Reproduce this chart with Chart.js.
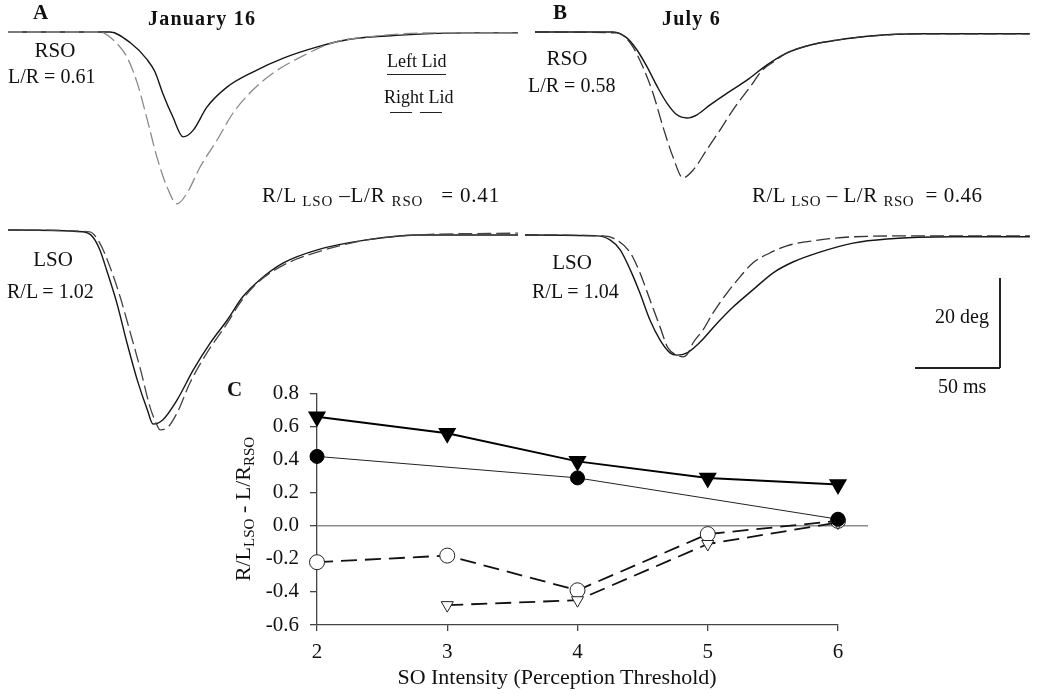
<!DOCTYPE html>
<html>
<head>
<meta charset="utf-8">
<script src="https://cdn.jsdelivr.net/npm/chart.js@4/dist/chart.umd.min.js"></script>
<style>
body { margin: 0; width: 1050px; height: 694px; background: #fff; position: relative; overflow: hidden; font-family: "Liberation Serif", "Times New Roman", serif; color: #111; }
canvas { position: absolute; }
.lbl { position: absolute; white-space: nowrap; line-height: 1; }
.lbl sub { font-size: 15px; vertical-align: -4px; line-height: 0; }
.rule { position: absolute; background: #222; }
#ytitle { position: absolute; left: 243px; top: 509px; font-size: 22px; line-height: 1; white-space: nowrap; transform: translate(-50%, -50%) rotate(-90deg); }
#ytitle sub { font-size: 15px; vertical-align: -4px; line-height: 0; }
</style>
</head>
<body>
<canvas id="aRso" width="510" height="216" style="left:8px;top:23px"></canvas>
<canvas id="aLso" width="510" height="216" style="left:8px;top:221px"></canvas>
<canvas id="bRso" width="510" height="216" style="left:535px;top:23px"></canvas>
<canvas id="bLso" width="510" height="216" style="left:525px;top:226px"></canvas>
<canvas id="chartC" width="680" height="324" style="left:220px;top:370px"></canvas>
<div id="ytitle">R/L<sub>LSO</sub> - L/R<sub>RSO</sub></div>

<script>
// eyelid traces: time (ms) and lid position (deg, down is negative)
const aRsoLeftT = [0, 60, 72, 82, 86.5, 91, 97, 103, 109, 117, 129, 144, 162, 182, 201, 231, 270, 300];
const aRsoLeftDeg = [0, 0, -2.4, -6.2, -8.9, -13.6, -18.9, -23.3, -21.8, -16.7, -12.2, -8.9, -5.8, -3.3, -1.6, -0.7, -0.2, -0.2];
const aRsoRightT = [0, 54, 62, 70, 76, 82, 87.6, 93.5, 99.4, 105.3, 113, 123, 132.4, 144, 156, 172, 191, 211, 250, 300];
const aRsoRightDeg = [0, 0, -1.8, -5.6, -11.3, -19.6, -27.8, -34.4, -38.2, -35.8, -30, -24, -18, -12.9, -9.1, -5.6, -2.4, -1.1, -0.2, -0.2];

const aLsoLeftT = [0, 44, 50, 54, 58, 64, 70, 76, 82, 85.3, 91, 99.4, 109, 119, 129, 138, 148, 162, 182, 211, 241, 300];
const aLsoLeftDeg = [0, -0.4, -1.6, -4.4, -8.9, -16.2, -25.1, -33.3, -40, -43.1, -42.2, -37.8, -31.1, -25.1, -20, -14.9, -11.1, -7.3, -4.4, -2.2, -1.1, -1.1];
const aLsoRightT = [0, 48, 54, 60, 66, 72, 78, 83.5, 87.6, 89.4, 93.5, 99.4, 107, 117, 129, 136.5, 146.5, 162, 182, 211, 241, 300];
const aLsoRightDeg = [0, -0.4, -2.9, -8.2, -14.9, -22.9, -31.1, -39.3, -43.3, -44.4, -44, -40.7, -34, -27.3, -20.7, -16.2, -11.8, -7.8, -4.9, -2.2, -1.1, -0.7];

const bRsoLeftT = [0, 46, 54, 60, 66, 72, 77.6, 83.5, 89.4, 95.3, 103, 113, 124.7, 136.5, 148, 162, 177.6, 197, 226.5, 291];
const bRsoLeftDeg = [0, 0, -1.3, -4, -7.8, -12.2, -15.8, -18.4, -19.1, -18.4, -16.2, -13.6, -10.7, -7.3, -4.7, -2.9, -1.8, -0.9, -0.4, -0.4];
const bRsoRightT = [0, 48, 56, 63.5, 69.4, 75.3, 81.2, 87, 93, 101, 108.8, 116.5, 126.5, 134, 140, 148, 162, 177.6, 197, 226.5, 291];
const bRsoRightDeg = [0, -0.2, -2.4, -7.8, -13.6, -21.1, -27.8, -32.4, -30.7, -26.2, -21.8, -17.3, -12.2, -8.4, -6.7, -4.7, -2.9, -1.8, -0.9, -0.4, -0.4];

const bLsoLeftT = [0, 42.4, 50, 56, 62, 67.6, 73.5, 79.4, 85.3, 89.4, 95.3, 103, 113, 122.4, 134, 146, 157.6, 173.5, 193, 213, 252, 297];
const bLsoLeftDeg = [0, -0.2, -1.1, -3.3, -7.8, -12.9, -18.9, -23.3, -26.2, -26.7, -26.2, -23.8, -19.6, -16, -12.2, -8.4, -6, -3.8, -1.8, -0.9, -0.4, -0.4];
const bLsoRightT = [0, 46, 54, 62, 67.6, 73.5, 79.4, 84.1, 89.4, 93, 96, 98.8, 104.7, 110.6, 118.8, 126.5, 134, 144, 154, 173.5, 193, 232, 297];
const bLsoRightDeg = [0, -0.2, -1.1, -4, -8.4, -14.4, -20.4, -25.1, -26.7, -27.1, -26.2, -24, -21.1, -17.3, -12.9, -9.3, -6.2, -4, -2.4, -1.1, -0.4, -0.2, -0.2];

// panel C
const intensity = [2, 3, 4, 5, 6];
const filledTriangle = [0.66, 0.56, 0.39, 0.29, 0.25];
const filledCircle = [0.42, null, 0.29, null, 0.04];
const openCircle = [-0.22, -0.18, -0.39, -0.05, 0.03];
const openTriangle = [null, -0.48, -0.45, -0.11, 0.02];

const serif = '"Liberation Serif", "Times New Roman", serif';
const ink = '#111';
const axisColor = '#444';

function pts(xs, ys) {
    return xs.map((x, i) => ({ x: x, y: ys[i] }));
}

function traceChart(id, leftT, leftDeg, rightT, rightDeg, dashColor) {
    new Chart(document.getElementById(id), {
        type: 'line',
        data: {
            datasets: [{
                data: pts(rightT, rightDeg),
                borderColor: dashColor,
                borderWidth: 1.3,
                borderDash: [14, 5],
                pointRadius: 0,
                cubicInterpolationMode: 'monotone'
            }, {
                data: pts(leftT, leftDeg),
                borderColor: '#151515',
                borderWidth: 1.4,
                pointRadius: 0,
                cubicInterpolationMode: 'monotone'
            }]
        },
        options: {
            responsive: false,
            animation: false,
            clip: false,
            layout: { padding: 0 },
            plugins: { legend: { display: false }, tooltip: { enabled: false } },
            scales: {
                x: { type: 'linear', min: 0, max: 300, display: false },
                y: { min: -46, max: 2, display: false }
            }
        }
    });
}

traceChart('aRso', aRsoLeftT, aRsoLeftDeg, aRsoRightT, aRsoRightDeg, '#8a8a8a');
traceChart('aLso', aLsoLeftT, aLsoLeftDeg, aLsoRightT, aLsoRightDeg, '#444');
traceChart('bRso', bRsoLeftT, bRsoLeftDeg, bRsoRightT, bRsoRightDeg, '#333');
traceChart('bLso', bLsoLeftT, bLsoLeftDeg, bLsoRightT, bLsoRightDeg, '#333');

// gray zero line that runs past the last tick
const zeroLine = {
    id: 'zeroLine',
    beforeDatasetsDraw(chart) {
        const { ctx, chartArea, scales } = chart;
        const y = scales.y.getPixelForValue(0);
        ctx.save();
        ctx.strokeStyle = '#8c8c8c';
        ctx.lineWidth = 1.5;
        ctx.beginPath();
        ctx.moveTo(chartArea.left, y);
        ctx.lineTo(chartArea.right + 30, y);
        ctx.stroke();
        ctx.restore();
    }
};

const dash = [16, 8];
new Chart(document.getElementById('chartC'), {
    type: 'line',
    data: {
        datasets: [{
            data: pts(intensity, filledCircle),
            borderColor: '#222',
            borderWidth: 1,
            spanGaps: true,
            pointStyle: 'circle',
            pointRadius: 7,
            pointBackgroundColor: '#000',
            pointBorderColor: '#000'
        }, {
            data: pts(intensity, openTriangle),
            borderColor: '#111',
            borderWidth: 1.8,
            borderDash: dash,
            spanGaps: true,
            pointStyle: 'triangle',
            rotation: 180,
            pointRadius: 7,
            pointBorderWidth: 1,
            pointBackgroundColor: '#fff',
            pointBorderColor: '#222'
        }, {
            data: pts(intensity, openCircle),
            borderColor: '#111',
            borderWidth: 1.8,
            borderDash: dash,
            pointStyle: 'circle',
            pointRadius: 7.5,
            pointBorderWidth: 1,
            pointBackgroundColor: '#fff',
            pointBorderColor: '#222'
        }, {
            data: pts(intensity, filledTriangle),
            borderColor: '#000',
            borderWidth: 2,
            pointStyle: 'triangle',
            rotation: 180,
            pointRadius: 8.5,
            pointBackgroundColor: '#000',
            pointBorderColor: '#000'
        }]
    },
    options: {
        responsive: false,
        animation: false,
        clip: false,
        layout: { padding: { top: 19, right: 62, left: 0, bottom: 0 } },
        plugins: { legend: { display: false }, tooltip: { enabled: false } },
        scales: {
            x: {
                type: 'linear', min: 2, max: 6,
                ticks: { stepSize: 1, color: ink, padding: 9, font: { family: serif, size: 21 } },
                grid: { drawOnChartArea: false, tickLength: 6, color: axisColor, lineWidth: 1.3 },
                border: { color: axisColor, width: 1.3 },
                afterFit: s => { s.height = 69; }
            },
            y: {
                min: -0.6, max: 0.8,
                ticks: { stepSize: 0.2, color: ink, padding: 11, font: { family: serif, size: 21 },
                    callback: v => v.toFixed(1) },
                grid: { drawOnChartArea: false, tickLength: 7, color: axisColor, lineWidth: 1.3 },
                border: { color: axisColor, width: 1.3 },
                afterFit: s => { s.width = 97; }
            }
        }
    },
    plugins: [zeroLine]
});

// text labels, placed by baseline
function label(html, x, base, size, opts = {}) {
    const d = document.createElement('div');
    d.className = 'lbl';
    d.innerHTML = html;
    d.style.fontSize = size + 'px';
    d.style.left = x + 'px';
    d.style.top = (base - 0.8375 * size) + 'px';
    if (opts.bold) d.style.fontWeight = 'bold';
    if (opts.center) d.style.transform = 'translateX(-50%)';
    if (opts.spacing) d.style.letterSpacing = opts.spacing + 'px';
    document.body.appendChild(d);
}

function rule(x, y, w, h) {
    const d = document.createElement('div');
    d.className = 'rule';
    d.style.left = x + 'px';
    d.style.top = y + 'px';
    d.style.width = w + 'px';
    d.style.height = h + 'px';
    document.body.appendChild(d);
}

label('A', 33, 20, 21, { bold: true });
label('January 16', 148, 25, 20, { bold: true, spacing: 1.2 });
label('RSO', 55, 58, 21, { center: true });
label('L/R = 0.61', 8, 83, 20);
label('Left Lid', 387, 67, 18);
label('Right Lid', 384, 103, 18);
rule(387, 74, 59, 1.3);
rule(390, 112, 22, 1.3);
rule(420, 112, 22, 1.3);
label('R/L <sub>LSO</sub> &ndash;L/R <sub>RSO</sub> &nbsp;&nbsp;= 0.41', 262, 203, 21, { spacing: 0.8 });
label('LSO', 53, 267, 21, { center: true });
label('R/L = 1.02', 7, 298, 20);

label('B', 553, 20, 21, { bold: true });
label('July 6', 662, 25, 20, { bold: true, spacing: 1.2 });
label('RSO', 567, 66, 21, { center: true });
label('L/R = 0.58', 528, 92, 20);
label('R/L <sub>LSO</sub> &ndash; L/R <sub>RSO</sub> &nbsp;= 0.46', 752, 203, 21, { spacing: 0.5 });
label('LSO', 572, 270, 21, { center: true });
label('R/L = 1.04', 532, 298, 20);

// scale bar
rule(999, 278, 1.5, 90);
rule(915, 367, 85, 1.5);
label('20 deg', 935, 323, 20);
label('50 ms', 938, 393, 20);

label('C', 227, 397, 21, { bold: true });
label('SO Intensity (Perception Threshold)', 557, 684, 22, { center: true });
</script>
</body>
</html>
